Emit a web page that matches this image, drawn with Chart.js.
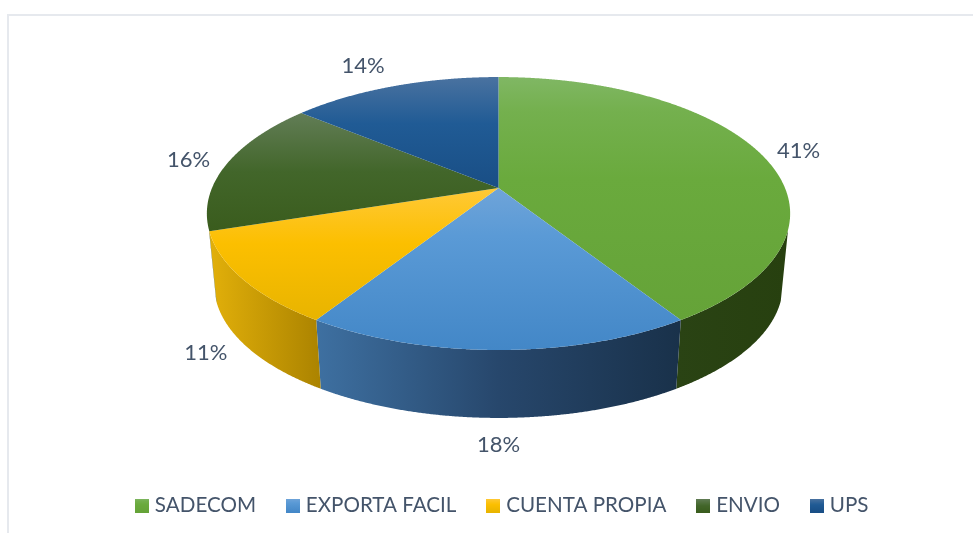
<!DOCTYPE html>
<html><head><meta charset="utf-8">
<style>html,body{margin:0;padding:0;background:#fff}canvas{display:block}</style>
<script src="https://cdn.jsdelivr.net/npm/chart.js@4"></script>
</head><body>
<canvas id="c" width="973" height="533"></canvas>
<script>
const categories = ['SADECOM','EXPORTA FACIL','CUENTA PROPIA','ENVIO','UPS'];
const shares = [41,18,11,16,14];
const baseColors = ['#6AAA3D','#5B9BD5','#FFC000','#3F6324','#1F5A95'];
const topStops = [
 [[0,'#80b764'],[0.14,'#74b04e'],[0.42,'#6aaa3d'],[1,'#65a338']],
 [[0,'#6fa4d9'],[0.3,'#5a9ad6'],[1,'#4387c7']],
 [[0,'#ffc937'],[0.42,'#fcbf00'],[1,'#e8b400']],
 [[0,'#627d56'],[0.5,'#42662a'],[1,'#3a5c1d']],
 [[0,'#4a72a0'],[0.42,'#205b95'],[1,'#194e85']]
];
const sideStops = [
 [[0,'#2a4314'],[1,'#27400f']],
 [[0,'#3e70a1'],[0.5,'#27476c'],[1,'#19314a']],
 [[0,'#e2b00a'],[1,'#ab8300']],
 [[0,'#2a4314'],[1,'#2a4314']],
 [[0,'#1a3a60'],[1,'#1a3a60']]
];
const labelNudges = [[38.5,-2],[0,95],[-37,74],[-38,-4],[-31,-20]];
const view = {cx:498.5, cy:188, a:286.5, b:131.7, k:0.187, depthY:72, shrink:0.975, vis:-0.3};

function topPt(t){const u=Math.sin(t),v=Math.cos(t),d=1+view.k*v;
  return [view.cx+view.a*u/d, view.cy-view.b*v/d];}
function lowPt(t){const p=topPt(t);
  return [view.cx+(p[0]-view.cx)*view.shrink, view.cy+view.depthY+(p[1]-view.cy)*view.shrink];}
function grad(ctx,x0,y0,x1,y1,stops){const g=ctx.createLinearGradient(x0,y0,x1,y1);
  stops.forEach(s=>g.addColorStop(s[0],s[1]));return g;}

const pie3d = {
  id:'pie3d',
  beforeDraw(chart){
    const c=chart.ctx;c.save();c.fillStyle='#e6e9ee';
    c.fillRect(7,14,966,2);c.fillRect(7,14,2,519);c.restore();
  },
  beforeDatasetsDraw(chart){
    const ctx=chart.ctx, arcs=chart.getDatasetMeta(0).data, step=0.004;
    const range=arcs.map(a=>[a.startAngle+Math.PI/2,a.endAngle+Math.PI/2]);
    const tVis=Math.acos(view.vis);
    // side wall, front arc only
    range.forEach((r,i)=>{
      const t0=Math.max(r[0],tVis), t1=Math.min(r[1],2*Math.PI-tVis);
      if(t1<=t0) return;
      const up=[],lo=[];
      for(let t=t0;t<t1;t+=step){up.push(topPt(t));lo.push(lowPt(t));}
      up.push(topPt(t1));lo.push(lowPt(t1));
      const xs=up.concat(lo).map(p=>p[0]);
      const xmin=Math.min(...xs),xmax=Math.max(...xs);
      ctx.beginPath();
      up.forEach((p,j)=>j?ctx.lineTo(p[0],p[1]):ctx.moveTo(p[0],p[1]));
      lo.reverse().forEach(p=>ctx.lineTo(p[0],p[1]));
      ctx.closePath();
      ctx.fillStyle=grad(ctx,xmin,0,xmax,0,sideStops[i]);
      ctx.fill();
    });
    // top face
    range.forEach((r,i)=>{
      const pts=[[view.cx,view.cy]];
      for(let t=r[0];t<r[1];t+=step)pts.push(topPt(t));
      pts.push(topPt(r[1]));
      const ys=pts.map(p=>p[1]);
      ctx.beginPath();
      pts.forEach((p,j)=>j?ctx.lineTo(p[0],p[1]):ctx.moveTo(p[0],p[1]));
      ctx.closePath();
      ctx.fillStyle=grad(ctx,0,Math.min(...ys),0,Math.max(...ys),topStops[i]);
      ctx.fill();
    });
    // percent labels
    ctx.save();
    ctx.font='22px Lato';ctx.fillStyle='#44546A';ctx.textAlign='center';ctx.textBaseline='middle';
    range.forEach((r,i)=>{
      const p=topPt((r[0]+r[1])/2);
      ctx.fillText(shares[i]+'%',p[0]+labelNudges[i][0],p[1]+labelNudges[i][1]);
    });
    ctx.restore();
    return false;
  }
};

function swatch(i){
  const s=document.createElement('canvas');s.width=14;s.height=14;
  const x=s.getContext('2d');
  x.fillStyle=grad(x,0,0,0,14,topStops[i]);
  x.fillRect(0,0,14,14);
  return s;
}

new Chart(document.getElementById('c'),{
  type:'pie',
  data:{labels:categories,datasets:[{data:shares,backgroundColor:baseColors,borderWidth:0}]},
  options:{
    responsive:false,animation:false,
    layout:{padding:{left:35,bottom:7,top:0,right:0}},
    plugins:{
      tooltip:{enabled:false},
      legend:{
        position:'bottom',
        labels:{
          color:'#44546A',font:{family:'Lato',size:20.6},
          usePointStyle:true,boxWidth:5,boxHeight:14,padding:34.5,
          generateLabels(chart){
            return categories.map((name,i)=>({text:name,fontColor:'#44546A',pointStyle:swatch(i),
              fillStyle:baseColors[i],strokeStyle:baseColors[i],lineWidth:0,index:i,hidden:false}));
          }
        }
      }
    }
  },
  plugins:[pie3d]
});
</script>
</body></html>
